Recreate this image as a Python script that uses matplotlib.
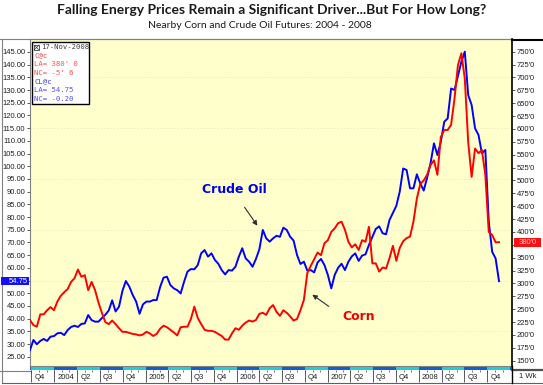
import matplotlib
matplotlib.use('Agg')
import matplotlib.pyplot as plt
import matplotlib.dates as mdates
import matplotlib.transforms as mtransforms
from matplotlib.lines import Line2D
from matplotlib.patches import Rectangle
import pandas as pd

W, H = 543, 385

start_date = '2003-09-25'   # first sample (left edge of the chart)
end_date = '2008-11-17'     # last sample
axis_end = '2009-01-08'

oil = [27.6, 31.6, 29.9, 31.2, 32.0, 31.2, 32.9, 33.1, 34.2, 34.4,
       33.5, 35.5, 36.7, 37.2, 36.7, 37.9, 38.1, 41.4, 39.4, 38.8,
       38.8, 40.2, 41.5, 43.2, 47.2, 42.8, 44.7, 50.9, 54.8, 52.6,
       49.3, 46.7, 41.9, 45.6, 46.7, 46.7, 47.3, 47.3, 52.4, 56.1,
       56.5, 53.2, 51.9, 51.2, 49.9, 54.5, 58.5, 59.5, 59.4, 61.1,
       65.7, 67.0, 64.4, 65.7, 63.1, 61.6, 59.1, 57.4, 59.1, 58.9,
       60.4, 64.4, 67.7, 63.7, 62.4, 60.4, 63.5, 67.3, 74.9, 71.6,
       70.3, 71.6, 72.6, 72.2, 75.8, 74.9, 72.2, 70.7, 65.0, 61.5,
       62.4, 58.9, 59.1, 58.2, 62.1, 63.5, 61.1, 57.2, 51.9, 57.2,
       60.0, 61.6, 59.1, 62.4, 64.5, 65.7, 62.7, 64.8, 65.3, 69.0,
       72.2, 75.3, 76.3, 73.6, 73.2, 78.8, 81.6, 84.4, 90.0, 99.1,
       98.5, 91.3, 91.3, 96.8, 93.2, 90.4, 95.5, 101.2, 109.0, 104.4,
       109.6, 117.5, 118.8, 130.6, 130.0, 135.6, 141.1, 145.1, 128.0, 124.1,
       114.9, 112.3, 105.1, 106.4, 78.2, 66.3, 63.7, 54.75]

corn = [229, 219, 216, 240, 240, 248, 254, 248, 265, 276,
        283, 289, 303, 310, 327, 313, 316, 287, 303, 287,
        263, 243, 225, 221, 228, 221, 213, 206, 206, 204,
        202, 201, 199, 201, 206, 203, 198, 202, 212, 218,
        215, 210, 205, 199, 215, 216, 216, 231, 255, 233,
        221, 210, 208, 208, 206, 202, 198, 191, 191, 203,
        213, 210, 218, 224, 228, 226, 229, 241, 243, 239,
        252, 258, 245, 237, 248, 243, 236, 228, 231, 248,
        268, 320, 334, 347, 360, 355, 378, 384, 400, 407,
        417, 420, 404, 381, 370, 376, 365, 384, 381, 410,
        339, 339, 323, 331, 329, 349, 373, 344, 369, 382,
        388, 391, 420, 465, 493, 500, 511, 530, 539, 511,
        584, 598, 598, 608, 659, 724, 747, 698, 574, 507,
        562, 553, 559, 511, 400, 394, 380, 380]

quarter_starts = pd.date_range('2003-10-01', '2008-10-01', freq='QS')
quarter_labels = ['Q4', '2004', 'Q2', 'Q3', 'Q4', '2005', 'Q2', 'Q3', 'Q4',
                  '2006', 'Q2', 'Q3', 'Q4', '2007', 'Q2', 'Q3', 'Q4',
                  '2008', 'Q2', 'Q3', 'Q4']

oil_ticks = list(range(25, 150, 5))
corn_ticks = list(range(150, 775, 25))

legend_lines = [('17-Nov-2008', '#404040'), ('C@c', '#ff3030'),
                ("LA= 380' 0", '#ff5050'), ("NC= -5' 6", '#ff5050'),
                ('CL@c', '#3030ff'), ('LA= 54.75', '#5050ff'),
                ('NC= -0.20', '#5050ff')]

dates = pd.date_range(start_date, end_date, periods=len(oil))

fig = plt.figure(figsize=(W / 100, H / 100), dpi=100)
fig.patch.set_facecolor('white')


def fx(x):
    return x / W


def fy(y):
    return 1 - y / H


L, R, T, B = 30, 512, 39, 366
xlim = (mdates.date2num(pd.Timestamp(start_date)),
        mdates.date2num(pd.Timestamp(axis_end)))

ax = fig.add_axes([fx(L), fy(B), (R - L) / W, (B - T) / H])
ax.set_facecolor('#FFFFCC')
for g in [35, 55, 75, 95, 115, 135]:
    ax.axhline(g, color='#ececc4', lw=0.6, ls=(0, (2, 2)), zorder=0)
ax.plot(dates, oil, color='#0000ff', lw=1.4, zorder=3)
ax.set_ylim(21.34, 150.08)
ax.set_xlim(*xlim)
ax.set_xticks([])
ax.set_yticks(oil_ticks)
ax.set_yticklabels(['' if v == 55 else f'{v:.2f}' for v in oil_ticks],
                   fontsize=5.5, family='Liberation Sans', color='#202020')
ax.tick_params(axis='y', length=2.5, width=0.6, pad=0.8, color='#404040')
for s in ['left', 'top', 'bottom']:
    ax.spines[s].set_color('#808080')
    ax.spines[s].set_linewidth(0.8)
ax.spines['right'].set_visible(False)

ax2 = ax.twinx()
ax2.plot(dates, corn, color='#ff0000', lw=1.4, zorder=3)
ax2.set_ylim(139.7, 774.7)
ax2.set_xlim(*xlim)
ax2.set_yticks(corn_ticks)
ax2.set_yticklabels(['' if v == 375 else f"{v}'0" for v in corn_ticks],
                    fontsize=5.5, family='Liberation Sans', color='#202020')
ax2.tick_params(axis='y', length=2.5, width=0.6, pad=0.8, color='#404040')
ax2.spines['right'].set_color('black')
ax2.spines['right'].set_linewidth(1.2)
for s in ['left', 'top', 'bottom']:
    ax2.spines[s].set_visible(False)

# last-price markers on the axes
tl = mtransforms.blended_transform_factory(fig.transFigure, ax.transData)
fig.add_artist(Rectangle((fx(1), oil[-1] - 1.6), 28 / W, 3.2, transform=tl,
                         fc='#1010ff', ec='none', zorder=9))
fig.text(fx(28), 0, f'{oil[-1]:.2f}', transform=tl, ha='right', va='center',
         fontsize=5.5, family='Liberation Sans', color='white', zorder=10)
fig.texts[-1].set_position((fx(28), oil[-1]))
tr = mtransforms.blended_transform_factory(fig.transFigure, ax2.transData)
fig.add_artist(Rectangle((fx(514), corn[-1] - 8.5), 27 / W, 17, transform=tr,
                         fc='#ff1010', ec='none', zorder=9))
fig.text(fx(527.5), corn[-1], f"{corn[-1]}'0", transform=tr, ha='center',
         va='center', fontsize=5.5, family='Liberation Sans',
         color='#ffd0d0', zorder=10)

# info box top-left
box = Rectangle((fx(32), fy(104)), (89 - 32) / W, (104 - 42) / H,
                transform=fig.transFigure, fc='white', ec='black', lw=1.0,
                zorder=20)
fig.add_artist(box)
for k, (txt, col) in enumerate(legend_lines):
    xx = 34 if k else 41
    fig.text(fx(xx), fy(47 + k * 8.6), txt, fontsize=5.2,
             family='DejaVu Sans Mono', color=col, va='center', ha='left',
             zorder=21)
fig.add_artist(Rectangle((fx(34), fy(50)), 5 / W, 5 / H,
                         transform=fig.transFigure, fc='white', ec='#404040',
                         lw=0.6, zorder=21))
fig.add_artist(Line2D([fx(34), fx(39)], [fy(50), fy(45)],
                      transform=fig.transFigure, color='#404040', lw=0.5, zorder=22))
fig.add_artist(Line2D([fx(34), fx(39)], [fy(45), fy(50)],
                      transform=fig.transFigure, color='#404040', lw=0.5, zorder=22))

# annotations
ax.annotate('', xy=(fx(259), fy(228)), xytext=(fx(243), fy(205)),
            xycoords='figure fraction', textcoords='figure fraction',
            arrowprops=dict(arrowstyle='-|>', color='#303030', lw=0.8,
                            mutation_scale=7))
ax.annotate('', xy=(fx(310), fy(293)), xytext=(fx(331), fy(308)),
            xycoords='figure fraction', textcoords='figure fraction',
            arrowprops=dict(arrowstyle='-|>', color='#303030', lw=0.8,
                            mutation_scale=7))
fig.text(fx(234), fy(189), 'Crude Oil', fontsize=9, fontweight='bold',
         color='#0000ee', ha='center', va='center', family='DejaVu Sans')
fig.text(fx(358.5), fy(317), 'Corn', fontsize=9, fontweight='bold',
         color='#ee0000', ha='center', va='center', family='DejaVu Sans')

# bottom date band
bx = fig.add_axes([fx(L), fy(383), (R - L) / W, 17 / H])
bx.set_xlim(*xlim)
bx.set_ylim(383, 366)
bx.axis('off')
band_edges = list(pd.date_range('2003-07-01', '2009-04-01', freq='QS'))
for k in range(len(band_edges) - 1):
    bx.fill_between([band_edges[k], band_edges[k + 1]], 366.5, 369.8,
                    color='#20d0d0' if k % 2 == 1 else '#1060d0', lw=0)
months = pd.date_range('2003-10-01', '2008-12-01', freq='MS')
bx.vlines(months, 369.8, 372, color='#404040', lw=0.5)
bx.vlines(quarter_starts, 369.8, 382, color='#404040', lw=0.6)
for q, lab in zip(quarter_starts, quarter_labels):
    bx.text(q + pd.Timedelta(days=12), 377.5, lab, fontsize=5.5,
            family='Liberation Sans', color='#202020', va='center', ha='left')


def fline(x0, y0, x1, y1, color='#808080', lw=0.8):
    fig.add_artist(Line2D([fx(x0), fx(x1)], [fy(y0), fy(y1)],
                          transform=fig.transFigure, color=color, lw=lw))


fline(0, 39, 512, 39)
fline(512, 39.5, 543, 39.5, color='black', lw=1.5)
fline(2, 39, 2, 383)
fline(2, 382.5, 543, 382.5, color='#606060')
fline(0, 370.5, 30, 370.5)
fline(512, 369.5, 543, 369.5, color='#505050', lw=1.6)
fline(512, 366, 512, 383, color='black', lw=1.0)
fig.text(fx(528), fy(376), '1 Wk', fontsize=5.5, family='Liberation Sans',
         color='#202020', ha='center', va='center')

# titles
fig.text(fx(272), fy(10), 'Falling Energy Prices Remain a Significant Driver...But For How Long?',
         ha='center', va='center', fontsize=10, fontweight='bold', family='Lato',
         color='#1a1a1a')
fig.text(fx(260), fy(25), 'Nearby Corn and Crude Oil Futures: 2004 - 2008',
         ha='center', va='center', fontsize=7.5, family='Lato', color='#1a1a1a')

fig.savefig('out.png', dpi=100)
